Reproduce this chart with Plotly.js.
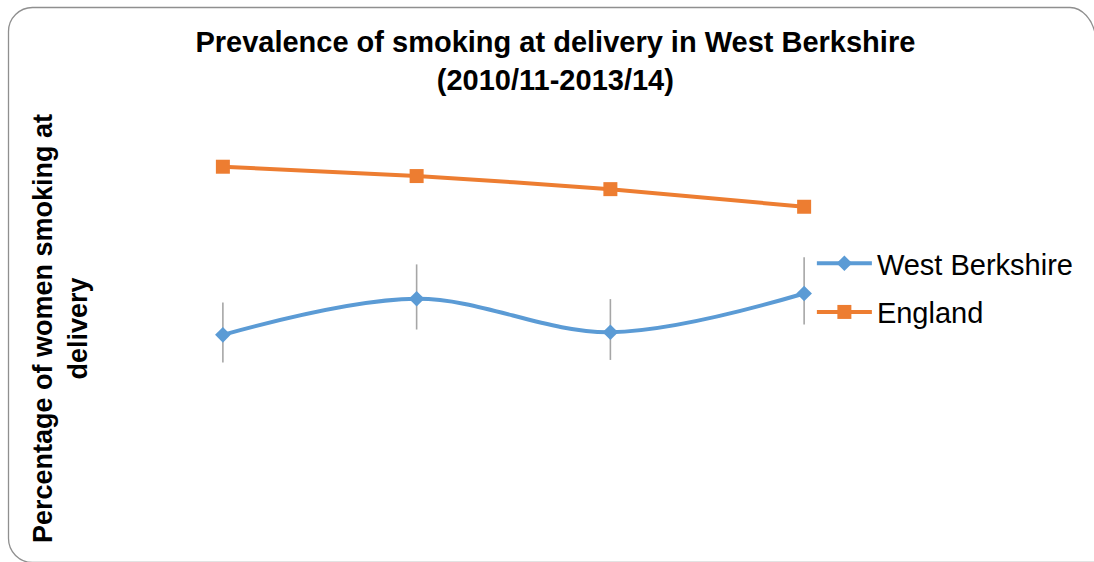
<!DOCTYPE html>
<html>
<head>
<meta charset="utf-8">
<script src="https://cdn.plot.ly/plotly-3.0.1.min.js"></script>
<style>
  html, body { margin: 0; padding: 0; background: #ffffff; overflow: hidden; }
  #chart { width: 1094px; height: 562px; }
</style>
</head>
<body>
<div id="chart"></div>
<script>
// Data (the reference shows no axis scale)
const categories = ["2010/11", "2011/12", "2012/13", "2013/14"];
const westBerkshire = [7.2, 8.55, 7.3, 8.75];
const westBerkshireErrPlus = [1.21, 1.29, 1.24, 1.36];
const westBerkshireErrMinus = [1.04, 1.15, 1.04, 1.16];
const england = [13.5, 13.15, 12.66, 12.0];

const FONT = "Liberation Sans, Arial, sans-serif";

// Layout geometry (pixels)
const W = 1094, H = 562;
const M = { l: 126, r: 193, t: 100, b: 35 };
const plotW = W - M.l - M.r, plotH = H - M.t - M.b;
const px = v => (v - M.l) / plotW;          // pixel x -> paper x
const py = v => (H - M.b - v) / plotH;      // pixel y -> paper y

// rounded chart-area border: only the visible parts (top edge with the
// top-right corner, left edge with both left corners, bottom edge)
function roundedFrame(L, T, R, B, r) {
  const k = 0.45;
  return [
    "M", px(R + 2), py(T + r + 8),
    "C", px(R), py(T + r * k), px(R - r * (1 - k)), py(T), px(R - r), py(T),
    "L", px(L + r), py(T),
    "C", px(L + r * k), py(T), px(L), py(T + r * k), px(L), py(T + r),
    "L", px(L), py(B - r),
    "C", px(L), py(B - r * k), px(L + r * k), py(B), px(L + r), py(B),
    "L", px(R + 10), py(B)
  ].join(" ").replace(/ (-?[\d.]+) (-?[\d.]+)/g, " $1,$2");
}

const traces = [
  {
    x: categories, y: westBerkshire, name: "West Berkshire", type: "scatter", mode: "lines+markers",
    legendgroup: "a",
    line: { color: "#5B9BD5", width: 4, shape: "spline", smoothing: 1 },
    marker: { symbol: "diamond", size: 12, color: "#5B9BD5" },
    error_y: { type: "data", symmetric: false, array: westBerkshireErrPlus, arrayminus: westBerkshireErrMinus,
               color: "#A6A6A6", thickness: 1.6, width: 0 }
  },
  {
    x: categories, y: england, name: "England", type: "scatter", mode: "lines+markers",
    legendgroup: "b",
    line: { color: "#ED7D31", width: 4, shape: "spline", smoothing: 0.5 },
    marker: { symbol: "square", size: 14, color: "#ED7D31" }
  }
];

const layout = {
  width: W, height: H,
  paper_bgcolor: "#ffffff", plot_bgcolor: "rgba(0,0,0,0)",
  margin: M,
  font: { family: FONT, color: "#000000" },
  title: {
    text: "<b>Prevalence of smoking at delivery in West Berkshire<br>(2010/11-2013/14)</b>",
    font: { family: FONT, size: 29, color: "#000000" },
    x: 0.554, xref: "paper", xanchor: "center",
    y: 0.907, yref: "container", yanchor: "middle"
  },
  xaxis: {
    type: "category", range: [-0.5, 3.5], showticklabels: false, showgrid: false,
    zeroline: false, showline: false, ticks: ""
  },
  yaxis: {
    range: [0, 16], showticklabels: false, showgrid: false, zeroline: false, showline: false, ticks: ""
  },
  showlegend: true,
  legend: {
    x: 0.885, xanchor: "left", y: 0.56, yanchor: "middle",
    font: { family: FONT, size: 29, color: "#000000" },
    bgcolor: "rgba(0,0,0,0)", traceorder: "grouped", tracegroupgap: 8,
    itemwidth: 55
  },
  shapes: [
    {
      type: "path", xref: "paper", yref: "paper", layer: "below",
      path: roundedFrame(8.5, 7.5, 1094, 562.5, 24),
      line: { color: "#8f8f8f", width: 1.3 }, fillcolor: "rgba(0,0,0,0)"
    }
  ],
  annotations: [
    {
      text: "<b>Percentage of women smoking at<br>delivery</b>",
      xref: "paper", yref: "paper",
      x: px(60), y: py(329),
      xanchor: "center", yanchor: "middle",
      textangle: -90, showarrow: false,
      font: { family: FONT, size: 27, color: "#000000" }
    }
  ]
};

Plotly.newPlot("chart", traces, layout, { displayModeBar: false, staticPlot: true });
</script>
</body>
</html>
